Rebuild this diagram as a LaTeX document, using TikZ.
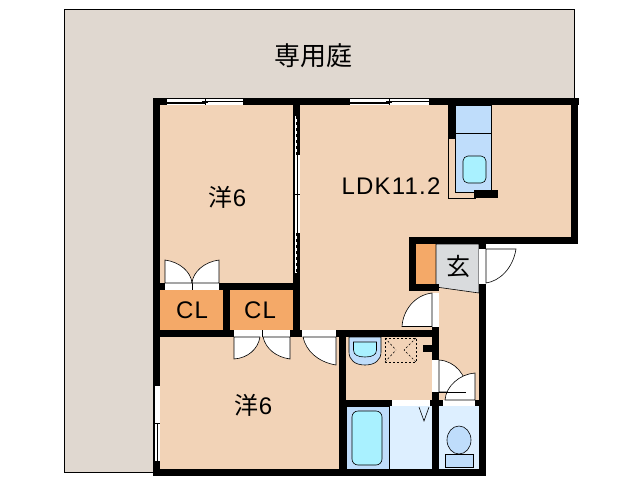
\documentclass[tikz,border=0pt]{standalone}
\usepackage{fontspec}
\setmainfont[LetterSpace=5]{Liberation Sans}
\newfontfamily\cjk{Noto Sans CJK JP}
\definecolor{gardencol}{HTML}{E0D8D0}
\definecolor{floorcol}{HTML}{F2D3B7}
\definecolor{closetcol}{HTML}{F4A968}
\definecolor{porchcol}{HTML}{D9DBDD}
\definecolor{bathcol}{HTML}{BFDDFB}
\definecolor{washcol}{HTML}{DDEFFF}
\definecolor{watercol}{HTML}{A9F1FF}
\tikzset{
	wall/.style={fill=black},
	opening/.style={fill=white},
	thinline/.style={draw=black,line width=.6pt},
	door/.style={thinline,fill=white},
	label/.style={font=\fontsize{24}{24}\selectfont,inner sep=0pt},
}
\begin{document}
\begin{tikzpicture}[x=1pt,y=-1pt]
	\useasboundingbox (0,0) rectangle (638,480);
	% garden and floors
	\draw[thinline,fill=gardencol] (64.5,9.5) -- (574.5,9.5) -- (574.5,99) -- (155,99) -- (155,472.5) -- (64.5,472.5) -- cycle;
	\fill[floorcol] (155,100) rectangle (575,240);
	\fill[floorcol] (155,240) rectangle (340,472);
	\fill[floorcol] (340,240) rectangle (482,403);
	\fill[closetcol] (160,290) rectangle (223,330);
	\fill[closetcol] (230,290) rectangle (293,330);
	\fill[closetcol] (416,244) rectangle (436,284);
	\draw[thinline,fill=porchcol] (436,244) -- (479,244) -- (479,293) -- (436,287) -- cycle;
	\draw[thinline,fill=bathcol] (346,406) rectangle (389.5,469);
	\fill[washcol] (390,406) rectangle (432,469);
	\fill[washcol] (439,406) rectangle (479,469);
	% walls
	\foreach \xa/\ya/\xb/\yb in {153/98/579/105,571/98/578/244,409/237/578/244,153/98/160/476,153/469/486/476,293/98/300/337,153/283/300/290,223/290/230/330,153/330/346/337,339/330/346/476,346/330/439/337,409/237/416/291,409/284/439/291,432/327/439/360,423/345/439/352,432/392/439/476,346/400/486/406,479/237/486/476}{
		\fill[wall] (\xa,\ya) rectangle (\xb,\yb);
	}
	% kitchen
	\draw[thinline] (448.5,139) -- (448.5,198.5) -- (476,198.5);
	\draw[thinline,fill=bathcol] (455,105) -- (491,105) -- (491,192) -- (455,192) -- cycle;
	\draw[thinline] (455,133) -- (491,133);
	\draw[thinline,fill=watercol,rounded corners=5pt] (463,156) rectangle (486,183);
	\fill[wall] (448,105) rectangle (455,139);
	\fill[wall] (474,190) rectangle (498,198);
	% windows
	\foreach \xa/\xm/\xb in {167/205/243,350/389/429}{
		\fill[opening] (\xa,99) rectangle (\xb,105);
		\draw[thinline] (\xa,102.5) -- (\xm+3,102.5);
		\fill[wall] (\xa,103) rectangle (\xm,104);
		\draw[thinline] (\xm-3,101.5) -- (\xb,101.5);
		\draw[thinline] (\xm,99) -- (\xm,105);
	}
	\fill[opening] (154,386) rectangle (160,461);
	\draw[thinline] (154,386) -- (154,461);
	\draw[thinline] (157.5,423) -- (157.5,461);
	\draw[thinline] (155,423) -- (160,423);
	% sliding doors between the rooms
	\fill[opening] (294,116) rectangle (300,273);
	\fill[wall] (297,116) rectangle (300,155);
	\fill[wall] (297,233) rectangle (300,273);
	\draw[thinline] (294,116) -- (294,273);
	\draw[thinline,dashed,dash pattern=on 3pt off 3pt] (296,116) -- (296,155);
	\draw[thinline,dashed,dash pattern=on 3pt off 3pt] (296,233) -- (296,273);
	\draw[thinline] (297,155) -- (297,233);
	\draw[thinline] (293,194) -- (300,194);
	% doors
	\foreach \xa/\ya/\xb/\yb in {165/283/219/290,234/330/290/337,302/330/336/337,432/293/439/327,479/249/486/284,432/360/439/392,392/400/430/406,443/400/475/406}{
		\fill[opening] (\xa,\ya) rectangle (\xb,\yb);
	}
	\draw[thinline] (192,283) -- (192,290);
	\draw[thinline] (262,330) -- (262,337);
	\draw[door] (165,283) -- (165,260) .. controls (180,262) and (191,272) .. (192,283) -- cycle;
	\draw[door] (219,283) -- (219,260) .. controls (204,262) and (193,272) .. (192,283) -- cycle;
	\draw[door] (234,337) -- (234,359) .. controls (248,358) and (258,349) .. (260,337) -- cycle;
	\draw[door] (290,337) -- (290,359) .. controls (276,357) and (266,349) .. (263,337) -- cycle;
	\draw[door] (336,337) -- (336,365) .. controls (318,362) and (306,351) .. (303,337) -- cycle;
	\draw[door] (486,249) -- (516,249) .. controls (513,268) and (500,281) .. (486,283) -- cycle;
	\draw[door] (432,326.5) -- (432,293) .. controls (415,295) and (403,310) .. (402,326.5) -- cycle;
	\draw[door] (439,392) -- (439,360) .. controls (455,361) and (467,375) .. (467,392) -- cycle;
	\draw[door] (475,400) -- (475,373) .. controls (460,374) and (446,386) .. (445,400) -- cycle;
	\draw[thinline] (439,392) -- (466,392);
	% wash basin, laundry pan, bath, toilet
	\draw[thinline,fill=bathcol] (349,337) -- (349,352) .. controls (349,360) and (355,365) .. (365,365) .. controls (375,365) and (381,360) .. (381,352) -- (381,337) -- cycle;
	\draw[thinline,fill=watercol] (353.5,342) -- (376.5,342) -- (376.5,350) .. controls (376.5,355) and (372,357) .. (365,357) .. controls (358,357) and (353.5,355) .. (353.5,350) -- cycle;
	\draw[thinline,dashed,dash pattern=on 2pt off 2pt] (385,338) rectangle (416,362);
	\draw[thinline,dashed,dash pattern=on 2pt off 2pt] (385,362) -- (396,350) (416,338) -- (404,350) (385,338) -- (396,350) (416,362) -- (404,350);
	\draw[thinline,fill=watercol,rounded corners=6pt] (352,411) rectangle (382,465);
	\draw[thinline] (419,407) -- (424,421) -- (429,407);
	\draw[thinline,fill=bathcol] (459,440) ellipse [x radius=12,y radius=14];
	\draw[thinline,fill=bathcol] (445,454) rectangle (473,467);
	% labels
	\node[label,font=\fontsize{26}{26}\selectfont\cjk] (garden) at (313.5,56) {専用庭};
	\node[label] (westa) at (227.5,197) {{\cjk 洋}6};
	\node[label] (ldk) at (391,186) {LDK11.2};
	\node[label] (clA) at (192,310) {CL};
	\node[label] (clB) at (260,310) {CL};
	\node[label,font=\fontsize{24}{24}\selectfont\cjk] (porch) at (458,266) {玄};
	\node[label] (westb) at (253.5,405) {{\cjk 洋}6};
\end{tikzpicture}
\end{document}
